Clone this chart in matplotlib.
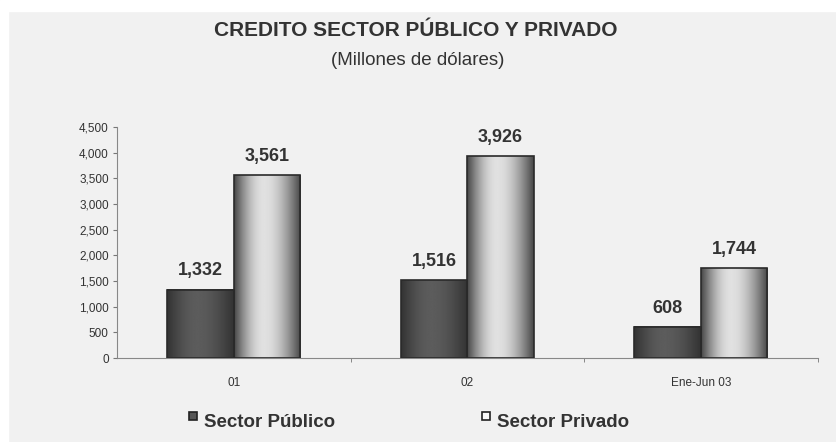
import numpy as np
import matplotlib.pyplot as plt
from matplotlib.patches import Rectangle

plt.rcParams['font.family'] = ['Liberation Sans', 'DejaVu Sans']

# datos (millones de dólares)
periodos = ['01', '02', 'Ene-Jun 03']
publico = [1332, 1516, 608]
privado = [3561, 3926, 1744]
series = ['Sector Público', 'Sector Privado']

fig = plt.figure(figsize=(8.36, 4.42), dpi=100)
fig.patch.set_facecolor('#f1f1f1')
# franja blanca del borde superior e izquierdo
fig.patches.append(Rectangle((0, 0.975), 1, 0.025, transform=fig.transFigure,
                             color='white', zorder=0))
fig.patches.append(Rectangle((0, 0), 0.009, 1, transform=fig.transFigure,
                             color='white', zorder=0))

ax = fig.add_axes([0.140, 0.190, 0.838, 0.523])
ax.set_facecolor('#f1f1f1')

ancho = 0.285
x = np.arange(len(periodos))


def perfil_cilindro(claro, oscuro, pico, n=120):
    t = np.linspace(0, 1, n)
    v = np.where(t < pico,
                 oscuro + (claro - oscuro) * np.sin(np.pi / 2 * t / pico),
                 oscuro + (claro - oscuro) * np.cos(np.pi / 2 * (t - pico) / (1 - pico)))
    return v


grad_pub = perfil_cilindro(0.36, 0.20, 0.45)
grad_priv = perfil_cilindro(0.88, 0.28, 0.45)

def barra(x0, altura, grad):
    img = np.tile(grad, (2, 1))
    ax.imshow(img, extent=[x0, x0 + ancho, 0, altura], aspect='auto',
              cmap='gray', vmin=0, vmax=1, zorder=2, interpolation='bilinear')
    ax.add_patch(Rectangle((x0, 0), ancho, altura, fill=False,
                           edgecolor='#2a2a2a', linewidth=1.2, zorder=3))

for i in range(len(periodos)):
    barra(x[i] - ancho, publico[i], grad_pub)
    barra(x[i], privado[i], grad_priv)
    ax.text(x[i] - ancho / 2, publico[i] + 200, f'{publico[i]:,}', ha='center',
            va='bottom', fontsize=13, fontweight='bold', color='#333333')
    ax.text(x[i] + ancho / 2, privado[i] + 200, f'{privado[i]:,}', ha='center',
            va='bottom', fontsize=13, fontweight='bold', color='#333333')

ax.set_xlim(-0.5, 2.5)
ax.set_ylim(0, 4500)
ax.set_yticks(np.arange(0, 4501, 500))
ax.set_yticklabels([f'{v:,}' for v in range(0, 4501, 500)], fontsize=8.5, color='#333333')
ax.set_xticks(x)
ax.set_xticklabels(periodos, fontsize=8.5, color='#333333')
ax.set_xticks([0.5, 1.5, 2.5], minor=True)
ax.tick_params(axis='x', which='major', length=0, pad=14)
ax.tick_params(axis='x', which='minor', length=3, color='#777777')
ax.tick_params(axis='y', length=3, color='#777777', pad=3)
for s in ['top', 'right']:
    ax.spines[s].set_visible(False)
ax.spines['left'].set_color('#888888')
ax.spines['bottom'].set_color('#888888')

fig.text(0.497, 0.932, 'CREDITO SECTOR PÚBLICO Y PRIVADO', ha='center', va='center',
         fontsize=15, fontweight='bold', color='#333333')
fig.text(0.500, 0.862, '(Millones de dólares)', ha='center', va='center',
         fontsize=13.5, color='#333333')

# leyenda
fig.patches.append(Rectangle((0.2265, 0.050), 0.0095, 0.018, transform=fig.transFigure,
                             facecolor='#555555', edgecolor='#222222', linewidth=1.2))
fig.patches.append(Rectangle((0.577, 0.050), 0.0095, 0.018, transform=fig.transFigure,
                             facecolor='#f8f8f8', edgecolor='#222222', linewidth=1.2))
fig.text(0.244, 0.045, series[0], fontsize=13.5, fontweight='bold', color='#333333', va='center')
fig.text(0.594, 0.045, series[1], fontsize=13.5, fontweight='bold', color='#333333', va='center')

fig.savefig('out.png', dpi=100, facecolor=fig.get_facecolor())
